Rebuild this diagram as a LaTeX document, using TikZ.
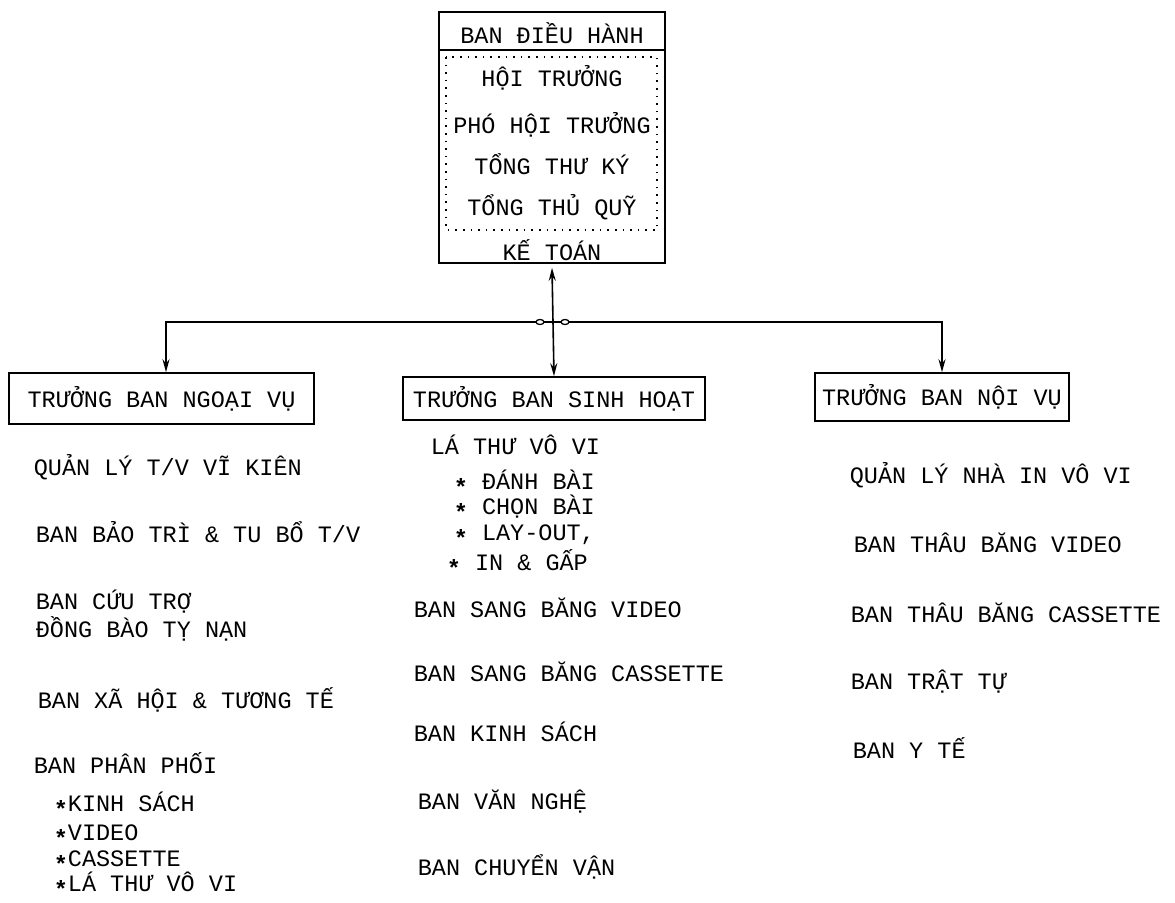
\documentclass[tikz,border=0pt]{standalone}
\usepackage{fontspec}
\newfontfamily\plotfont{Liberation Mono}
\usepackage{tikz}
\usetikzlibrary{arrows.meta}

\newcommand{\bul}{\smash{\raisebox{-0.25em}{\bfseries *}}}

\begin{document}
\begin{tikzpicture}[x=1pt, y=-1pt, line width=1.6pt,
    txt/.style={font=\plotfont\fontsize{23.5}{24}\selectfont, inner sep=0pt},
    item/.style={txt, anchor=west},
    chief/.style={txt, draw, minimum height=#1},
    arr/.style={-{Stealth[length=13pt,width=7pt]}}]
  \useasboundingbox (0,0) rectangle (1175,902);

  % Ban điều hành
  \node[draw, minimum width=226pt, minimum height=251pt] (bdh) at (552,137.5) {};
  \draw ([yshift=-39pt]bdh.north west) -- ([yshift=-39pt]bdh.north east);
  \draw[dash pattern=on 1.6pt off 6pt] (446,57) rectangle (657,230);
  \node[txt] (tieude) at (552,33) {BAN ĐIỀU HÀNH};
  \node[txt] (hoitruong) at (552,78) {HỘI TRƯỞNG};
  \node[txt] (phohoitruong) at (552,125) {PHÓ HỘI TRƯỞNG};
  \node[txt] (thuky) at (552,164) {TỔNG THƯ KÝ};
  \node[txt] (thuquy) at (552,207) {TỔNG THỦ QUỸ};
  \node[txt] (ketoan) at (552,250) {KẾ TOÁN};

  % Ba trưởng ban
  \node[chief=51pt, minimum width=305pt] (ngoaivu) at (161.5,398.5) {TRƯỞNG BAN NGOẠI VỤ};
  \node[chief=43pt, minimum width=302pt] (sinhhoat) at (554,398.5) {TRƯỞNG BAN SINH HOẠT};
  \node[chief=48pt, minimum width=254pt] (noivu) at (942,397) {TRƯỞNG BAN NỘI VỤ};

  % Đường nối
  \coordinate (hub) at (553,322);
  \draw[arr] (hub) -- ([yshift=-4pt]bdh.south);
  \draw[arr] (hub) -- (sinhhoat.north);
  \draw[arr] (hub) -| ([xshift=4.5pt]ngoaivu.north);
  \draw[arr] (hub) -| (noivu.north);
  \draw[fill=white, line width=1.3pt] (540,322) ellipse [x radius=4pt, y radius=2.5pt];
  \draw[fill=white, line width=1.3pt] (565,322) ellipse [x radius=4pt, y radius=2.5pt];

  % Ngoại vụ
  \node[item] (quanlytv) at (33,467) {QUẢN LÝ T/V VĨ KIÊN};
  \node[item] (baotri) at (35,532) {BAN BẢO TRÌ \& TU BỔ T/V};
  \node[item] (cuutro) at (35,602) {BAN CỨU TRỢ};
  \node[item] (tynan) at (35,629) {ĐỒNG BÀO TỴ NẠN};
  \node[item] (xahoi) at (37,700) {BAN XÃ HỘI \& TƯƠNG TẾ};
  \node[item] (phanphoi) at (33,763) {BAN PHÂN PHỐI};
  \node[item] (ppkinhsach) at (53,802) {\bul KINH SÁCH};
  \node[item] (ppvideo) at (53,833) {\bul VIDEO};
  \node[item] (ppcassette) at (53,859) {\bul CASSETTE};
  \node[item] (pplathu) at (53,882) {\bul LÁ THƯ VÔ VI};

  % Sinh hoạt
  \node[item] (lathu) at (430,445) {LÁ THƯ VÔ VI};
  \node[item] (danhbai) at (453,480) {\bul{} ĐÁNH BÀI};
  \node[item] (chonbai) at (453,507) {\bul{} CHỌN BÀI};
  \node[item] (layout) at (453,535) {\bul{} LAY-OUT,};
  \node[item] (ingap) at (446,560) {\bul{} IN \& GẤP};
  \node[item] (sangvideo) at (413,608) {BAN SANG BĂNG VIDEO};
  \node[item] (sangcassette) at (413,672) {BAN SANG BĂNG CASSETTE};
  \node[item] (kinhsach) at (413,732) {BAN KINH SÁCH};
  \node[item] (vannghe) at (417,802) {BAN VĂN NGHỆ};
  \node[item] (chuyenvan) at (417,867) {BAN CHUYỂN VẬN};

  % Nội vụ
  \node[item] (nhain) at (849,475) {QUẢN LÝ NHÀ IN VÔ VI};
  \node[item] (thauvideo) at (853,543) {BAN THÂU BĂNG VIDEO};
  \node[item] (thaucassette) at (850,613) {BAN THÂU BĂNG CASSETTE};
  \node[item] (tratu) at (850,682) {BAN TRẬT TỰ};
  \node[item] (yte) at (852,748) {BAN Y TẾ};
\end{tikzpicture}
\end{document}
